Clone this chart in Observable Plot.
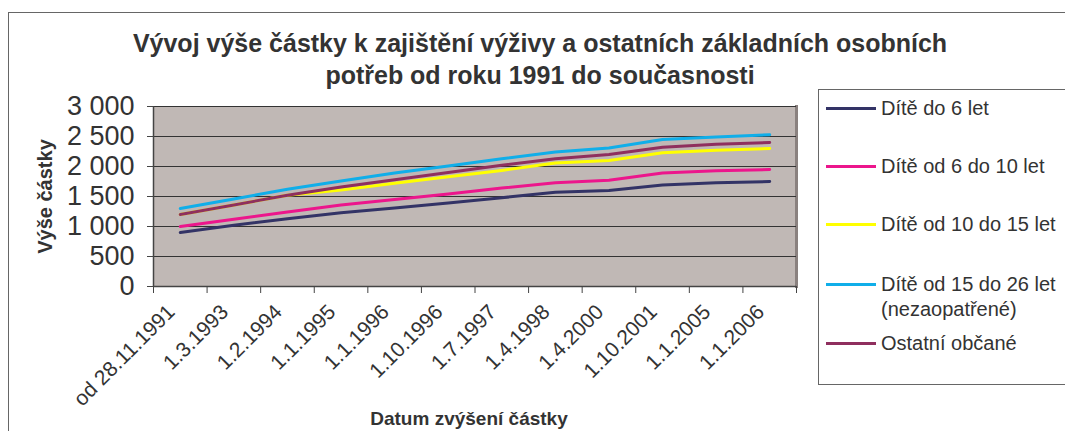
<!DOCTYPE html>
<html>
<head>
<meta charset="utf-8">
<script src="https://cdn.jsdelivr.net/npm/d3@7"></script>
<script src="https://cdn.jsdelivr.net/npm/@observablehq/plot@0.6"></script>
<style>
  html, body { margin: 0; padding: 0; background: #fff; }
  #wrap { position: relative; width: 1065px; height: 431px; overflow: hidden; background: #fff;
          font-family: "Liberation Sans", Arial, sans-serif; color: #333; }
  #outer { position: absolute; left: 8px; top: 12px; width: 1200px; height: 600px; border: 1.5px solid #666; }
  #title { position: absolute; left: 0; top: 27px; width: 1080px; text-align: center;
           font-weight: bold; font-size: 25px; line-height: 32px; color: #333; }
  #chart { position: absolute; left: 0; top: 95px; }
  #legend { position: absolute; left: 818px; top: 89px; width: 260px; height: 294px;
            border: 1.5px solid #666; background: #fff; }
  .item { position: absolute; left: 0; font-size: 20px; line-height: 25px; color: #333; }
  .swatch { position: absolute; left: 7px; width: 50px; height: 3px; }
  .label { position: absolute; left: 62px; white-space: nowrap; }
</style>
</head>
<body>
<div id="wrap">
  <div id="outer"></div>
  <div id="title">Vývoj výše částky k zajištění výživy a ostatních základních osobních<br>potřeb od roku 1991 do současnosti</div>
  <div id="chart"></div>
  <div id="legend"></div>
</div>
<script>
const categories = ["od 28.11.1991","1.3.1993","1.2.1994","1.1.1995","1.1.1996","1.10.1996","1.7.1997","1.4.1998","1.4.2000","1.10.2001","1.1.2005","1.1.2006"];
const seriesNames = ["Dítě do 6 let","Dítě od 6 do 10 let","Dítě od 10 do 15 let","Dítě od 15 do 26 let (nezaopatřené)","Ostatní občané"];
const legendLabels = [["Dítě do 6 let"],["Dítě od 6 do 10 let"],["Dítě od 10 do 15 let"],["Dítě od 15 do 26 let","(nezaopatřené)"],["Ostatní občané"]];
const seriesColors = ["#333366","#ec168c","#ffff00","#10aee9","#8f2f5e"];
const dite0_6   = [900, 1020, 1130, 1230, 1310, 1390, 1480, 1570, 1600, 1690, 1730, 1750];
const dite6_10  = [1000, 1120, 1240, 1360, 1450, 1540, 1640, 1730, 1770, 1890, 1930, 1950];
const dite10_15 = [1200, 1360, 1520, 1610, 1720, 1830, 1935, 2060, 2100, 2230, 2270, 2300];
const dite15_26 = [1300, 1460, 1620, 1760, 1890, 2010, 2130, 2240, 2310, 2450, 2490, 2530];
const ostatni   = [1200, 1360, 1520, 1660, 1780, 1900, 2020, 2130, 2200, 2320, 2370, 2400];
const yTicks = [0, 500, 1000, 1500, 2000, 2500, 3000];

const seriesValues = [dite0_6, dite6_10, dite10_15, dite15_26, ostatni];
const rows = [];
seriesNames.forEach((s, k) => seriesValues[k].forEach((v, i) => rows.push({series: s, i, value: v})));
const idx = d3.range(categories.length);
const bounds = d3.range(categories.length + 1).map(d => d - 0.5);
const fmt = d => d3.format(",")(d).replace(/,/g, " ");

const chart = Plot.plot({
  width: 1065, height: 336,
  marginLeft: 153, marginRight: 269, marginTop: 11, marginBottom: 145,
  x: {type: "linear", domain: [-0.5, categories.length - 0.5]},
  y: {domain: [0, 3000]},
  color: {domain: seriesNames, range: seriesColors},
  style: {fontFamily: "'Liberation Sans', Arial, sans-serif", color: "#333", background: "transparent", overflow: "visible"},
  marks: [
    Plot.frame({fill: "#c0b8b5", stroke: "none"}),
    Plot.frame({anchor: "right", stroke: "#8a817f", strokeWidth: 3}),
    Plot.gridY(yTicks.filter(d => d > 0), {stroke: "#333", strokeOpacity: 1, strokeWidth: 1.2}),
    Plot.ruleX([-0.5], {stroke: "#444", strokeWidth: 1.5}),
    Plot.ruleY([0], {stroke: "#444", strokeWidth: 1.5}),
    Plot.axisY({ticks: yTicks, tickSize: 6, tickPadding: 13, tickFormat: fmt, fontSize: 27, label: null, stroke: "#444"}),
    Plot.axisX({ticks: bounds, tickSize: 7, tickFormat: () => "", label: null, stroke: "#444"}),
    Plot.axisX({ticks: idx, tickSize: 0, tickPadding: 22, dx: -9, tickRotate: -45, tickFormat: i => categories[i], fontSize: 21, label: null}),
    Plot.line(rows, {x: "i", y: "value", z: "series", stroke: "series", strokeWidth: 3}),
    Plot.text(["Výše částky"], {frameAnchor: "left", dx: -108, rotate: -90, textAnchor: "middle", lineAnchor: "middle", fontSize: 20, fontWeight: "bold", fill: "#333"}),
    Plot.text(["Datum zvýšení částky"], {frameAnchor: "bottom", dx: -6, dy: 132, textAnchor: "middle", lineAnchor: "middle", fontSize: 19, fontWeight: "bold", fill: "#333"})
  ]
});
document.getElementById("chart").appendChild(chart);

const legend = document.getElementById("legend");
const centers = [18, 76, 134, 194, 253];
legendLabels.forEach((lines, k) => {
  const item = document.createElement("div");
  item.className = "item";
  item.style.top = (centers[k] - 12.5) + "px";
  const sw = document.createElement("div");
  sw.className = "swatch";
  sw.style.background = seriesColors[k];
  sw.style.top = "11px";
  item.appendChild(sw);
  const lab = document.createElement("div");
  lab.className = "label";
  lab.innerHTML = lines.join("<br>");
  item.appendChild(lab);
  legend.appendChild(item);
});
</script>
</body>
</html>
